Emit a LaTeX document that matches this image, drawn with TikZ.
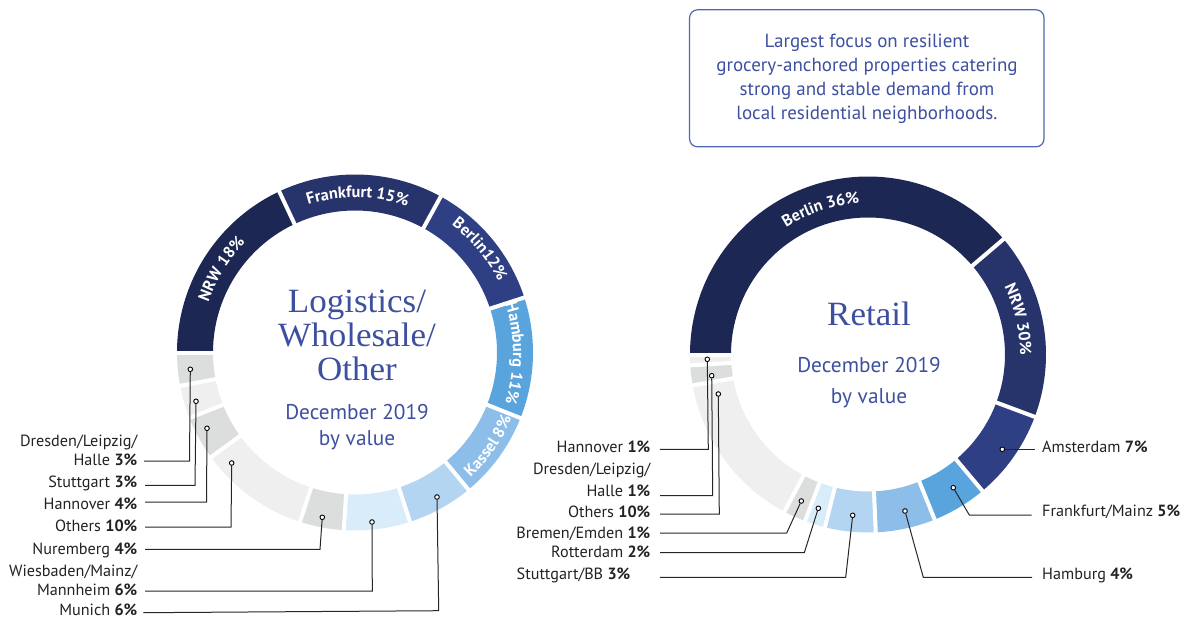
\documentclass[tikz,border=0pt]{standalone}
\usepackage{fontspec}
\setmainfont{PT Sans}
\newfontfamily\headfont[FakeStretch=1.03]{Liberation Serif}
\usetikzlibrary{decorations.text,calc}
\definecolor{navyA}{HTML}{1D2754}
\definecolor{navyB}{HTML}{27336B}
\definecolor{navyC}{HTML}{2F3F83}
\definecolor{blueA}{HTML}{5AA4DE}
\definecolor{blueB}{HTML}{8DBDE9}
\definecolor{blueC}{HTML}{B3D5F2}
\definecolor{blueD}{HTML}{D9ECFA}
\definecolor{greyA}{HTML}{DCDDDD}
\definecolor{greyB}{HTML}{EFEFEF}
\definecolor{ink}{HTML}{3D4F9F}
\definecolor{boxline}{HTML}{4F68AE}
\definecolor{lab}{HTML}{222222}
\tikzset{
  lbl/.style={font=\fontsize{16.2}{18.5}\selectfont,text=lab,inner sep=0pt,align=right},
  lbll/.style={lbl,align=left},
  sub/.style={font=\fontsize{21.3}{26}\selectfont,text=ink,inner sep=0pt,align=center},
  head/.style={font=\headfont\fontsize{34}{34}\selectfont,text=ink,inner sep=0pt,align=center},
  dotm/.style={circle,draw=black,fill=white,line width=0.9pt,inner sep=0pt,minimum size=4.6pt},
  conn/.style={draw=black!85,line width=1pt},
  callout/.style={draw=boxline,line width=1.2pt,rounded corners=8pt,inner sep=0pt},
  boxtext/.style={font=\fontsize{19}{24}\selectfont,text=ink,inner sep=0pt,align=center},
}
\newcommand\ringfont{\fontsize{16.3}{18}\selectfont\bfseries}
\newcommand\ringseg[6]{\fill[#6] ($(#1)+(#4:#3pt)$) arc[start angle=#4,end angle=#5,radius=#3pt] -- ($(#1)+(#5:#2pt)$) arc[start angle=#5,end angle=#4,radius=#2pt] -- cycle;}
\newcommand\ringgap[4]{\draw[white,line width=4pt] ($(#1)+(#4:#2pt-2pt)$) -- ($(#1)+(#4:#3pt+2pt)$);}
\newcommand\ringtext[5]{\path[decorate,decoration={text along path,text align=center,text color=white,
   text={|\ringfont|#5}}] ($(#4)+(#2:#1pt)$) arc[start angle=#2,end angle=#3,radius=#1pt];}
\begin{document}
\begin{tikzpicture}[x=1pt,y=1pt]
\useasboundingbox (0,0) rectangle (1186,-619);
\coordinate (L) at (355,-352.5);
\coordinate (R) at (868,-354.5);
% ---- left ring
\ringseg{L}{142}{178}{180}{115.2}{navyA}
\ringseg{L}{142}{178}{115.2}{61.2}{navyB}
\ringseg{L}{142}{178}{61.2}{18}{navyC}
\ringseg{L}{142}{178}{18}{-21.6}{blueA}
\ringseg{L}{142}{178}{-21.6}{-50.4}{blueB}
\ringseg{L}{142}{178}{-50.4}{-72}{blueC}
\ringseg{L}{142}{178}{-72}{-93.6}{blueD}
\ringseg{L}{142}{178}{-93.6}{-108}{greyA}
\ringseg{L}{142}{178}{-108}{-144}{greyB}
\ringseg{L}{142}{178}{-144}{-158.4}{greyA}
\ringseg{L}{142}{178}{-158.4}{-169.2}{greyB}
\ringseg{L}{142}{178}{-169.2}{-180}{greyA}
\foreach \a in {180,115.2,61.2,18,-21.6,-50.4,-72,-93.6,-108,-144,-158.4,-169.2}{\ringgap{L}{142}{178}{\a}}
\ringtext{155}{180}{116}{L}{NRW 18{\%}}
\ringtext{155}{116}{62}{L}{Frankfurt 15{\%}}
\ringtext{160}{61.2}{18}{L}{Berlin12{\%}}
\ringtext{158}{19.5}{-20}{L}{Hamburg 11{\%}}
\ringtext{170}{-49.4}{-20.6}{L}{Kassel 8{\%}}
% ---- right ring
\ringseg{R}{137}{178}{180}{40.4}{navyA}
\ringseg{R}{137}{178}{40.4}{-20.5}{navyB}
\ringseg{R}{137}{178}{-20.5}{-50}{navyC}
\ringseg{R}{137}{178}{-50}{-68}{blueA}
\ringseg{R}{137}{178}{-68}{-87.5}{blueB}
\ringseg{R}{137}{178}{-87.5}{-104}{blueC}
\ringseg{R}{137}{178}{-104}{-110.7}{blueD}
\ringseg{R}{137}{178}{-110.7}{-118}{greyA}
\ringseg{R}{137}{178}{-118}{-170}{greyB}
\ringseg{R}{137}{178}{-170}{-176.5}{greyA}
\ringseg{R}{137}{178}{-176.5}{-180}{greyB}
\foreach \a in {180,40.4,-20.5,-50,-68,-87.5,-104,-110.7,-118,-170,-176.5}{\ringgap{R}{137}{178}{\a}}
\ringtext{151}{138}{78}{R}{Berlin 36{\%}}
\ringtext{152}{43}{-17}{R}{NRW 30{\%}}
% ---- centre titles
\node[head,anchor=base] (ltitle) at (357,-380) {Logistics/\\Wholesale/\\Other};
\node[sub,anchor=center] (lsub) at (357,-427.5) {December 2019\\by value};
\node[head,anchor=base] (rtitle) at (869,-325) {Retail};
\node[sub,anchor=center] (rsub) at (869,-383) {December 2019\\[5pt]by value};
% ---- callout
\node[callout,minimum width=354.5pt,minimum height=137pt] (box) at (866.8,-78.3) {};
\node[boxtext] (boxt) at (867,-79) {Largest focus on resilient\\grocery-anchored properties catering\\strong and stable demand from\\local residential neighborhoods.};
% ---- left labels
\node[lbl,anchor=base east] (a1) at (137.5,-465) {Dresden/Leipzig/\\Halle \textbf{3\%}};
\node[lbl,anchor=base east] (a2) at (137.5,-487) {Stuttgart \textbf{3\%}};
\node[lbl,anchor=base east] (a3) at (137.5,-509) {Hannover \textbf{4\%}};
\node[lbl,anchor=base east] (a4) at (137.5,-531) {Others \textbf{10\%}};
\node[lbl,anchor=base east] (a5) at (137.5,-554) {Nuremberg \textbf{4\%}};
\node[lbl,anchor=base east] (a6) at (137.5,-595) {Wiesbaden/Mainz/\\Mannheim \textbf{6\%}};
\node[lbl,anchor=base east] (a7) at (137.5,-615) {Munich \textbf{6\%}};
\node[dotm] (ad1) at (190.3,-369.3) {};
\node[dotm] (ad2) at (196,-401.3) {};
\node[dotm] (ad3) at (207,-428.3) {};
\node[dotm] (ad4) at (231.7,-463) {};
\node[dotm] (ad5) at (322.3,-517.3) {};
\node[dotm] (ad6) at (372,-522) {};
\node[dotm] (ad7) at (437,-497) {};
\coordinate (ae1) at (189.5,-461); \coordinate (af1) at (144,-461);
\coordinate (ae2) at (195,-485.3); \coordinate (af2) at (145,-485.3);
\coordinate (ae3) at (206.5,-502); \coordinate (af3) at (145,-502);
\coordinate (ae4) at (231,-527); \coordinate (af4) at (145,-527);
\coordinate (ae5) at (320,-549.3); \coordinate (af5) at (145,-549.3);
\coordinate (ae6) at (372.3,-591); \coordinate (af6) at (145,-591);
\coordinate (ae7) at (438.7,-610.7); \coordinate (af7) at (143.3,-612.7);
\foreach \i in {1,...,7}{\draw[conn] (ad\i) -- (ae\i) -- (af\i);}
% ---- right ring labels, left side
\node[lbl,anchor=base east] (b1) at (650.5,-452) {Hannover \textbf{1\%}};
\node[lbl,anchor=base east] (b2) at (650.5,-496) {Dresden/Leipzig/\\[3.5pt]Halle \textbf{1\%}};
\node[lbl,anchor=base east] (b3) at (650.5,-517) {Others \textbf{10\%}};
\node[lbl,anchor=base east] (b4) at (650.5,-538) {Bremen/Emden \textbf{1\%}};
\node[lbl,anchor=base east] (b5) at (650.5,-557) {Rotterdam \textbf{2\%}};
\node[lbl,anchor=base east] (b6) at (630.5,-579) {Stuttgart/BB \textbf{3\%}};
\node[dotm] (bd1) at (707.3,-359.3) {};
\node[dotm] (bd2) at (711.7,-375.7) {};
\node[dotm] (bd3) at (718.3,-394) {};
\node[dotm] (bd4) at (801.3,-501) {};
\node[dotm] (bd5) at (818.3,-508.3) {};
\node[dotm] (bd6) at (852.7,-515.3) {};
\coordinate (be1) at (708.3,-449.3); \coordinate (bf1) at (660,-449.3);
\coordinate (be2) at (712.7,-495.7); \coordinate (bf2) at (660,-495.7);
\coordinate (be3) at (719.3,-514); \coordinate (bf3) at (660,-514);
\coordinate (be4) at (786.7,-533); \coordinate (bf4) at (660,-533);
\coordinate (be5) at (804.3,-552.7); \coordinate (bf5) at (660,-552.7);
\coordinate (be6) at (845.7,-577.3); \coordinate (bf6) at (660,-577.3);
\foreach \i in {1,...,6}{\draw[conn] (bd\i) -- (be\i) -- (bf\i);}
% ---- right ring labels, right side
\node[lbll,anchor=base west] (c1) at (1042,-452) {Amsterdam \textbf{7\%}};
\node[lbll,anchor=base west] (c2) at (1042,-516) {Frankfurt/Mainz \textbf{5\%}};
\node[lbll,anchor=base west] (c3) at (1042,-579) {Hamburg \textbf{4\%}};
\node[dotm] (cd1) at (1002.3,-449.3) {};
\node[dotm] (cd2) at (953.3,-487.7) {};
\node[dotm] (cd3) at (905,-511) {};
\coordinate (cf1) at (1035,-449.3);
\coordinate (ce2) at (969.3,-515); \coordinate (cf2) at (1031.7,-515);
\coordinate (ce3) at (923.3,-577.3); \coordinate (cf3) at (1032,-577.3);
\draw[conn] (cd1) -- (cf1);
\draw[conn] (cd2) -- (ce2) -- (cf2);
\draw[conn] (cd3) -- (ce3) -- (cf3);
\end{tikzpicture}
\end{document}
